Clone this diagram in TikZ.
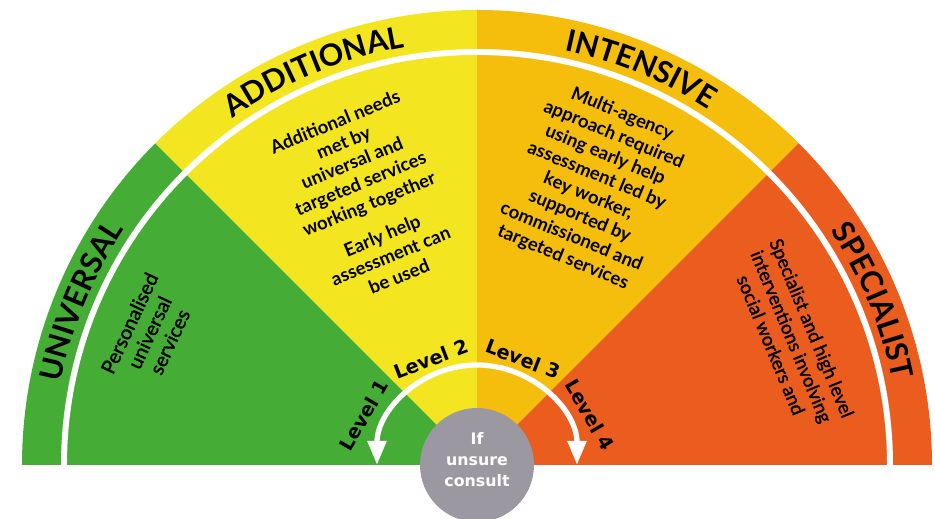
\documentclass[tikz,border=0pt]{standalone}
\usepackage{fontspec}
\setmainfont{Lato}
\newfontfamily\mediumfont[FakeBold=1.5]{Lato}
\newfontfamily\levelfont{DejaVu Sans}
\usepackage{tikz}
\usetikzlibrary{decorations.text, arrows.meta}
\definecolor{universalgreen}{HTML}{45AD35}
\definecolor{additionalyellow}{HTML}{F4E521}
\definecolor{intensiveamber}{HTML}{F5BD0C}
\definecolor{specialistorange}{HTML}{EA5D1E}
\definecolor{consultgrey}{HTML}{9C98A1}
\newcommand{\headfont}{\fontsize{17.3pt}{20pt}\selectfont\bfseries}
\newcommand{\blurbfont}{\fontsize{10.5pt}{12.6pt}\selectfont}
\tikzstyle{blurb} = [align=center, inner sep=0pt, font=\mediumfont\blurbfont]
\tikzstyle{boldblurb} = [blurb, font=\blurbfont\bfseries]
\tikzstyle{levellabel} = [inner sep=0pt, font=\levelfont\fontsize{11pt}{13pt}\selectfont\bfseries]
\tikzstyle{consult} = [circle, fill=consultgrey, minimum size=2.28cm]
\tikzstyle{consulttext} = [text=white, align=center, inner sep=0pt,
	font=\levelfont\fontsize{9pt}{11.9pt}\selectfont\bfseries]
\tikzstyle{levelarrow} = [white, line width=3pt, {Triangle[width=0.36cm,length=0.48cm]}-{Triangle[width=0.36cm,length=0.48cm]}]
\tikzset{heading/.style={decorate, decoration={text along path, text align=center, text={|\headfont|#1}}}}

\begin{document}
\begin{tikzpicture}[x=0.02cm, y=0.02cm]
\useasboundingbox (-477,-54) rectangle (458,465);
% the four bands
\fill[universalgreen] (0,0) -- (180:455) arc[start angle=180, end angle=135, radius=455] -- cycle;
\fill[additionalyellow] (0,0) -- (135:455) arc[start angle=135, end angle=90, radius=455] -- cycle;
\fill[intensiveamber] (0,0) -- (90:455) arc[start angle=90, end angle=45, radius=455] -- cycle;
\fill[specialistorange] (0,0) -- (45:455) arc[start angle=45, end angle=0, radius=455] -- cycle;
\draw[white, line width=3.4pt] (180:413) arc[start angle=180, end angle=0, radius=413];
% headings round the rim
\path[heading=UNIVERSAL] (180:424) arc[start angle=180, end angle=135, radius=424];
\path[heading=ADDITIONAL] (135:424) arc[start angle=135, end angle=90, radius=424];
\path[heading=INTENSIVE] (90:424) arc[start angle=90, end angle=45, radius=424];
\path[heading=SPECIALIST] (45:424) arc[start angle=45, end angle=0, radius=424];
% texts of the bands
\node[blurb, rotate=65, font=\mediumfont\fontsize{11.2pt}{12.6pt}\selectfont] (universal_text) at (-327.5,132.5)
	{Personalised\\universal\\services};
\node[boldblurb, rotate=22.5] (additional_text) at (-110,266)
	{Additional needs\\met by\\universal and\\targeted services\\working together\\[7pt]Early help\\assessment can\\be used};
\node[boldblurb, rotate=-22.5] (intensive_text) at (115.5,279)
	{Multi-agency\\approach required\\using early help\\assessment led by\\key worker,\\supported by\\commissioned and\\targeted services};
\node[blurb, rotate=-67.5] (specialist_text) at (314.5,128.5)
	{Specialist and high level\\interventions involving\\social workers and};
% levels
\draw[levelarrow] (180:100) arc[start angle=180, end angle=0, radius=100];
\node[levellabel, rotate=60] (level_one) at (-113,50) {Level 1};
\node[levellabel, rotate=21] (level_two) at (-46,106) {Level 2};
\node[levellabel, rotate=-21] (level_three) at (46,106) {Level 3};
\node[levellabel, rotate=-60] (level_four) at (113,50) {Level 4};
\node[consult] (if_unsure) at (0,0) {};
\node[consulttext] (if_unsure_text) at (0,5) {If\\unsure\\consult};
\end{tikzpicture}
\end{document}
